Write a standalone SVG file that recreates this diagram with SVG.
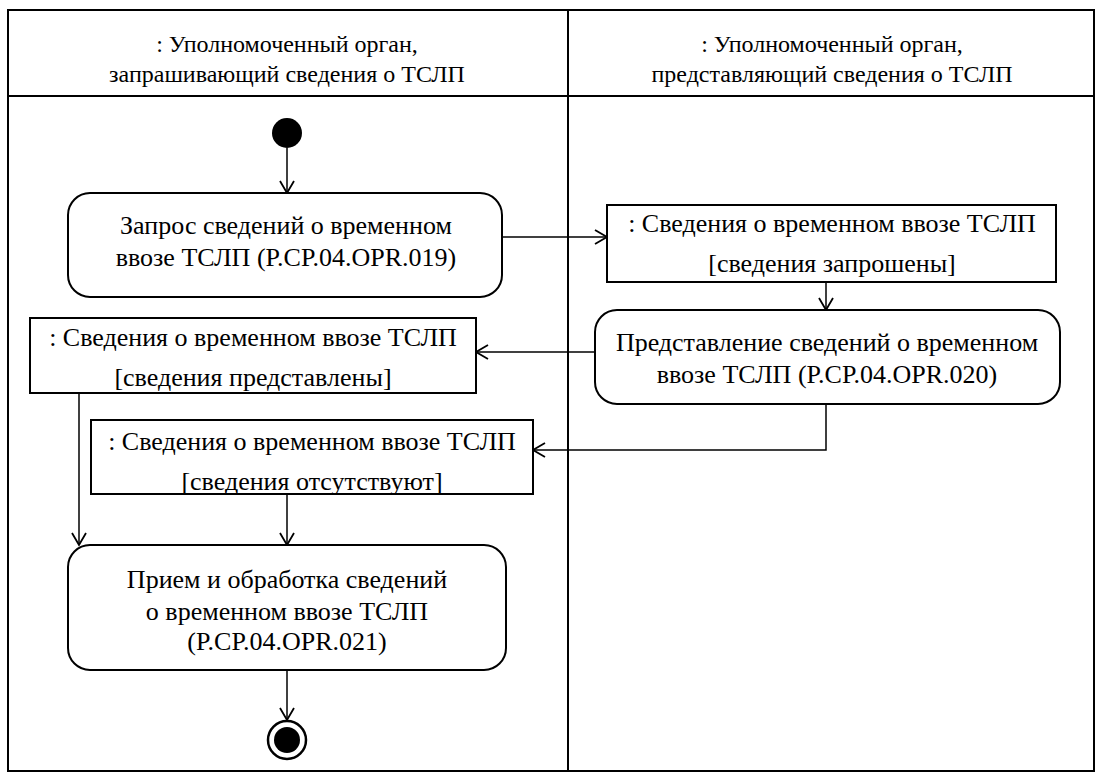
<svg xmlns="http://www.w3.org/2000/svg" width="1102" height="781" viewBox="0 0 1102 781" font-family="Liberation Serif, Times New Roman, serif">
<style>
text{font-size:26px;fill:#000;text-anchor:middle}
.hdr{font-size:24px}
.frame{fill:none;stroke:#000;stroke-width:2}
.box{fill:#fff;stroke:#000;stroke-width:2}
.conn{fill:none;stroke:#000;stroke-width:1.5;marker-end:url(#arr)}
</style>
<defs>
<marker id="arr" markerWidth="16" markerHeight="16" refX="13" refY="8" orient="auto" markerUnits="userSpaceOnUse">
<path d="M1,1 L13,8 L1,15" fill="none" stroke="#000" stroke-width="1.8"/>
</marker>
</defs>
<rect width="1102" height="781" fill="#fff"/>
<g id="lanes">
<rect class="frame" x="8" y="10" width="1086" height="761"/>
<line class="frame" x1="8" y1="96" x2="1094" y2="96"/>
<line class="frame" x1="568" y1="10" x2="568" y2="771"/>
<text class="hdr" x="287" y="52">: Уполномоченный орган,</text>
<text class="hdr" x="287" y="82">запрашивающий сведения о ТСЛП</text>
<text class="hdr" x="832" y="52">: Уполномоченный орган,</text>
<text class="hdr" x="832" y="82">представляющий сведения о ТСЛП</text>
</g>
<g id="connectors">
<line class="conn" x1="287" y1="148" x2="287" y2="193"/>
<line class="conn" x1="502" y1="237" x2="607" y2="237"/>
<line class="conn" x1="826" y1="282" x2="826" y2="310"/>
<line class="conn" x1="595" y1="352" x2="476" y2="352"/>
<polyline class="conn" points="826,404 826,450 533,450"/>
<line class="conn" x1="287" y1="494" x2="287" y2="545"/>
<line class="conn" x1="79" y1="393" x2="79" y2="545"/>
<line class="conn" x1="287" y1="670" x2="287" y2="720"/>
</g>
<g id="start"><circle cx="287" cy="133" r="15" fill="#000"/></g>
<g id="a1">
<rect class="box" x="68" y="193" width="434" height="104" rx="22"/>
<text x="286" y="234">Запрос сведений о временном</text>
<text x="286" y="266">ввозе ТСЛП (P.CP.04.OPR.019)</text>
</g>
<g id="o1">
<rect class="box" x="607" y="205" width="449" height="77"/>
<text x="832" y="232">: Сведения о временном ввозе ТСЛП</text>
<text x="832" y="272">[сведения запрошены]</text>
</g>
<g id="a2">
<rect class="box" x="595" y="310" width="465" height="94" rx="22"/>
<text x="827" y="351">Представление сведений о временном</text>
<text x="827" y="383">ввозе ТСЛП (P.CP.04.OPR.020)</text>
</g>
<g id="o2">
<rect class="box" x="30" y="318" width="446" height="75"/>
<text x="253" y="346">: Сведения о временном ввозе ТСЛП</text>
<text x="253" y="386">[сведения представлены]</text>
</g>
<g id="o3">
<rect class="box" x="91" y="420" width="442" height="74"/>
<text x="312" y="450">: Сведения о временном ввозе ТСЛП</text>
<text x="312" y="490">[сведения отсутствуют]</text>
</g>
<g id="a3">
<rect class="box" x="68" y="545" width="438" height="125" rx="22"/>
<text x="287" y="588">Прием и обработка сведений</text>
<text x="287" y="620">о временном ввозе ТСЛП</text>
<text x="287" y="650">(P.CP.04.OPR.021)</text>
</g>
<g id="end">
<circle cx="287" cy="740" r="19" fill="#fff" stroke="#000" stroke-width="2.5"/>
<circle cx="287" cy="740" r="13" fill="#000"/>
</g>
</svg>
